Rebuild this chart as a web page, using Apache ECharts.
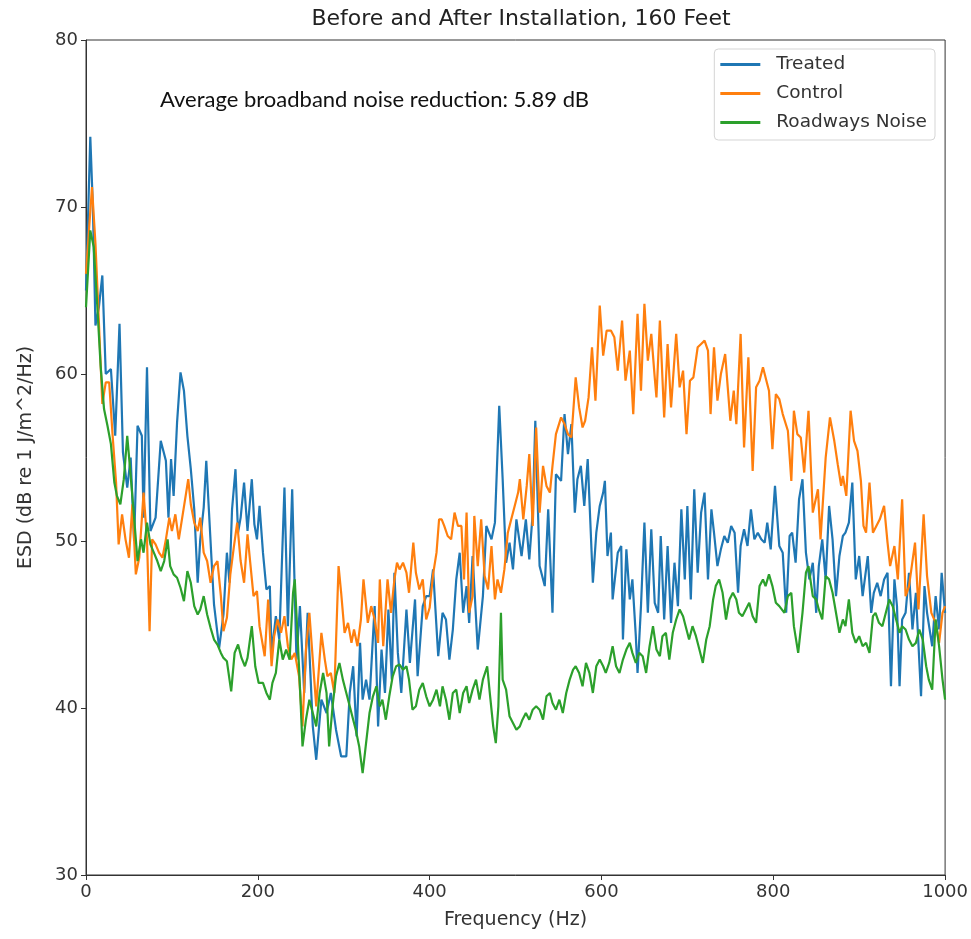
<!DOCTYPE html>
<html>
<head>
<meta charset="utf-8">
<script src="https://cdn.jsdelivr.net/npm/echarts@6/dist/echarts.min.js"></script>
<style>
  html, body { margin: 0; padding: 0; background: #fff; }
  #chart { width: 971px; height: 939px; }
</style>
</head>
<body>
<div id="chart"></div>
<script>
// [frequency Hz, ESD dB]
const treated = [[0,65],[5,74.2],[8,70],[11,62.9],[15,64],[19,65.9],[23,60],[29,60.3],[34,56.3],[39,63],[43,55.3],[48,53.2],[52,55],[56,50],[60,56.9],[65,56.3],[67,51.4],[71,60.4],[75,50.6],[81,51.4],[87,56],[93,54.8],[96,51.4],[99,54.9],[102,52.7],[106,57.1],[110,60.1],[114,59],[118,56.3],[122,54.3],[126,51.9],[130,47.5],[133,50.1],[137,52],[140,54.8],[143,51.9],[146,49],[149,46.2],[155,43.6],[160,45.6],[164,49.3],[167,47.5],[170,51.9],[174,54.3],[177,50.5],[180,51.4],[184,53.5],[188,50.6],[193,53.7],[196,51],[199,50.1],
  [202,52.1],[206,49.3],[210,47.1],[214,47.3],[216,43.3],[221,45.5],[225,44.1],[231,53.2],[235,44.9],[240,53.1],[245,42.9],[249,46.1],[254,40.9],[258,45.7],[264,38.9],[268,36.9],[274,40.5],[280,39.7],[285,40.9],[291,38.7],[297,37.1],[303,37.1],[307,40.9],[311,42.5],[315,38.3],[319,43.9],[322,40.5],[326,41.7],[330,40.5],[336,46.1],[340,38.9],[344,43.5],[348,40.9],[352,45.9],[356,41.7],[359,48.1],[363,43.3],[367,40.9],[373,45.9],[377,42.7],[383,46.5],[386,41.9],[392,46.1],[396,46.7],
  [400,46.7],[404,48.3],[410,43.1],[415,45.7],[419,45.3],[423,42.9],[427,44.7],[431,47.7],[435,49.3],[439,45.7],[443,47.3],[446,45.1],[450,49.1],[456,43.5],[462,46.7],[466,50.9],[472,50.1],[476,51.1],[481,58.1],[485,53.7],[489,48.7],[493,49.9],[497,48.3],[501,51.3],[507,49.1],[512,51.3],[516,48.9],[520,51.7],[523,57.2],[528,48.5],[534,47.3],[538,51.9],[543,45.7],[547,54],[553,53.6],[557,57.6],[561,55.2],[565,57],[569,51.7],[572,53.7],[576,54.5],[580,52.1],[584,54.9],[590,47.5],[594,50.5],[598,52.1],
  [602,52.9],[604,53.6],[607,49.1],[611,50.5],[613,46.5],[619,49.3],[623,49.7],[625,44.1],[629,49.5],[633,46.5],[636,47.7],[640,44.3],[642,42.1],[646,46.1],[650,51.1],[654,45.7],[658,50.7],[662,46.3],[666,45.7],[669,50.3],[673,45.3],[677,49.7],[681,45.1],[685,48.7],[689,46.1],[693,51.9],[697,47.7],[700,52.1],[704,46.5],[708,53.1],[712,48.1],[716,51.7],[720,52.9],[724,47.7],[728,51.9],[731,50.5],[735,48.5],[739,49.5],[743,50.3],[747,49.9],[751,50.9],[755,50.5],[759,46.9],[762,49.7],[766,50.7],[770,49.7],[774,51.9],[778,50.1],[782,50.5],[786,50.1],[790,49.9],[793,51.1],[797,49.5],
  [802,53.3],[807,49.7],[811,49.3],[815,45.7],[819,50.3],[822,50.5],[826,48.7],[830,52.5],[834,53.7],[838,49.3],[842,47.7],[846,48.7],[850,45.7],[853,48.5],[857,50.1],[861,47.7],[865,52.1],[869,50.1],[873,46.7],[877,49.1],[881,50.3],[884,50.5],[888,51.1],[892,53.5],[896,47.7],[900,49.1],[904,46.7],[910,49.1],[914,45.7],[917,46.9],[921,47.5],[925,46.7],[929,47.7],[933,48.1],[937,41.3],[941,47.7],[944,46.1],[947,41.3],[950,45.3],[954,45.7],[958,48.1],[962,44.7],[966,46.9],[972,40.7],[976,47.3],[979,45.7],[985,43.7],[989,46.7],[993,44.7],[996,48.1],[1000,45.7]];

const control = [[0,66],[4,69],[7,71.2],[11,67.8],[15,63.1],[19,58.2],[23,59.5],[27,59.5],[31,56.3],[35,53.5],[38,49.8],[42,51.6],[46,50.1],[50,49],[54,52.2],[58,48],[62,49],[67,52.9],[71,50.1],[74,44.6],[77,50.1],[81,49.8],[85,49.3],[89,49],[93,50.1],[97,51.4],[100,50.6],[104,51.6],[108,50.1],[112,51.4],[116,52.7],[119,53.7],[122,52.2],[126,51.1],[130,50.6],[133,51.4],[137,49.3],[141,48.8],[145,47.5],[149,48.5],[153,48.8],[157,46.7],[160,44.6],[164,45.4],[168,48],[172,49.6],[176,51.1],[180,48.8],[184,47.5],[188,50.4],[191,48.8],[195,46.7],[199,47],
  [202,44.9],[208,43.1],[212,46.5],[216,42.5],[219,44.3],[223,45.3],[227,44.5],[231,45.5],[235,43.7],[239,42.9],[243,43.3],[248,41.9],[252,38.9],[256,43.5],[260,45.7],[264,42.9],[268,40.1],[274,44.5],[278,42.9],[281,41.9],[285,42.1],[289,40.9],[294,48.5],[297,46.9],[301,44.5],[305,45.1],[309,43.9],[312,44.7],[316,43.7],[320,45.3],[323,47.7],[328,45.1],[332,46.1],[336,45.3],[340,43.9],[342,47.7],[346,43.7],[351,47.7],[355,45.7],[359,47.7],[362,48.7],[365,48.3],[369,48.7],[373,48.1],[376,46.9],[381,49.9],[384,48.1],[388,47.1],[392,47.7],[396,45.3],
  [400,46],[404,48],[408,49.3],[411,51.3],[414,51.3],[417,50.9],[421,50.3],[425,50.1],[429,51.7],[433,50.9],[437,50.9],[440,47.7],[443,51.7],[446,45.7],[450,46.7],[452,51.5],[456,48.5],[460,51.3],[464,47.9],[468,47.1],[472,49.7],[476,46.5],[479,47.7],[483,46.9],[487,48.3],[491,50.5],[495,51.3],[499,52.1],[503,52.9],[505,53.7],[509,51.3],[513,53.3],[516,55.2],[520,50.9],[524,56.8],[528,51.7],[532,54.5],[536,53.3],[540,52.9],[543,54.5],[547,56.4],[553,57.4],[557,57],[561,56.4],[565,56.2],[570,59.8],[574,58],[578,56.8],[581,57.2],[585,58.6],[589,61.6],[593,58.4],[598,64.1],
  [602,61.1],[606,62.6],[611,62.6],[615,62.2],[619,60.2],[624,63.2],[628,59.6],[633,61.4],[637,57.6],[642,63.6],[646,59],[650,64.2],[654,60.8],[658,62.4],[662,59.8],[664,58.6],[668,63.2],[673,57.4],[677,61.8],[681,58],[687,62.4],[691,59.2],[695,60.2],[699,56.4],[703,59.6],[707,59.8],[712,61.6],[716,61.8],[720,62],[724,61.4],[727,57.6],[731,61.6],[735,58.4],[739,60],[744,61.2],[747,59.2],[750,57.2],[754,59],[757,57],[762,62.4],[766,55.6],[771,61],[776,54.2],[780,59.2],[784,59.6],[788,60.4],[792,59.6],[795,59],[799,55.5],
  [803,58.8],[807,58.5],[811,57.6],[817,56.6],[821,53.6],[824,57.8],[828,56.4],[832,56.2],[836,54.1],[841,57.8],[846,51.7],[852,53.1],[855,50.1],[861,55],[866,57.4],[871,56],[875,54.6],[879,53.3],[881,53.9],[885,52.7],[890,57.8],[894,56],[898,55.4],[902,53.6],[905,50.9],[908,50.5],[912,53.5],[916,50.5],[920,50.9],[924,51.3],[929,52.1],[933,49.9],[936,48.5],[941,49.7],[945,47.7],[950,52.5],[954,46.7],[958,47.3],[965,49.9],[969,45.9],[975,51.6],[979,47.9],[984,45.7],[989,45.1],[993,43.9],[997,45.7],[1000,46.1]];

const roadways = [[0,64],[5,68.6],[9,67.6],[13,64.2],[17,60.5],[21,57.9],[25,56.9],[29,55.8],[33,53.5],[36,52.7],[40,52.2],[44,53.7],[48,56.3],[52,53.9],[56,51.4],[60,48.8],[64,50.1],[67,49.3],[71,51.1],[75,49.8],[79,49.3],[83,48.8],[87,48.2],[91,48.8],[95,50.1],[98,48.5],[102,48],[106,47.8],[110,47.2],[114,46.4],[118,48.2],[122,47.5],[126,46.1],[130,45.6],[133,45.9],[137,46.7],[141,45.6],[145,44.8],[149,44.1],[153,43.8],[157,43.3],[160,43],[164,42.8],[169,41],[173,43.3],[177,43.8],[181,43],[185,42.5],[188,43],[193,44.9],[197,42.5],
  [201,41.5],[206,41.5],[210,40.9],[214,40.5],[217,41.5],[221,42.1],[225,44.1],[229,42.9],[233,43.5],[237,42.9],[241,46.9],[243,47.7],[247,43.5],[249,41.3],[252,37.7],[256,39.3],[260,40.5],[264,39.7],[268,38.9],[272,40.9],[276,42.1],[280,40.9],[283,37.7],[287,40.1],[291,41.9],[295,42.7],[299,41.7],[303,40.9],[307,40.1],[311,39.3],[314,38.7],[318,37.7],[322,36.1],[326,37.9],[330,39.7],[334,40.7],[338,41.3],[342,40.1],[345,40.5],[349,39.3],[353,40.7],[357,41.9],[361,42.5],[365,42.6],[369,42.3],[373,42.5],[376,41.7],[380,39.9],[384,40.1],[388,41.1],[392,41.5],[396,40.7],
  [400,40.1],[404,40.5],[408,41.1],[412,40.1],[415,41.3],[419,40.5],[423,39.3],[427,40.9],[431,41.1],[435,39.7],[439,40.9],[443,41.3],[446,40.3],[450,41.1],[454,41.7],[458,40.5],[462,41.7],[467,42.5],[470,40.9],[474,38.9],[477,37.9],[480,40.1],[483,45.7],[485,41.7],[489,41.1],[493,39.5],[497,39.1],[501,38.7],[505,38.9],[508,39.3],[512,39.7],[516,39.3],[520,39.9],[524,40.1],[528,39.9],[532,39.3],[536,40.7],[540,40.9],[543,40.3],[547,39.9],[551,40.5],[555,39.7],[559,40.9],[563,41.7],[567,42.3],[570,42.5],[574,42.1],[578,41.3],[582,42.7],[586,42.1],[590,40.9],[594,42.5],[598,42.9],
  [602,42.5],[605,42.1],[609,42.7],[613,43.7],[617,42.5],[621,42.1],[625,42.9],[629,43.5],[633,43.9],[636,43.3],[640,42.7],[644,43.3],[648,43.1],[652,42.1],[656,43.7],[660,44.9],[664,43.5],[668,43.1],[671,44.3],[675,44.5],[679,42.9],[683,44.5],[687,45.3],[691,45.9],[695,45.5],[698,44.9],[702,44.1],[706,44.9],[710,44.3],[714,43.5],[718,42.7],[722,44.1],[726,44.9],[730,46.5],[733,47.3],[737,47.7],[741,46.9],[745,45.3],[749,46.5],[753,46.9],[757,46.5],[760,45.7],[764,45.5],[768,45.9],[772,46.3],[776,45.5],[780,45.1],[784,47.3],[788,47.7],[791,47.3],[795,48],[799,47.3],
  [803,46.3],[807,46.1],[813,45.7],[817,46.7],[821,46.9],[824,44.9],[829,43.3],[834,45.7],[838,48.1],[841,48.5],[846,46.7],[850,46.5],[853,45.9],[857,45.3],[861,47.9],[865,47.7],[869,46.9],[873,45.7],[877,44.5],[881,45.3],[884,44.9],[888,46.5],[892,44.5],[896,43.9],[900,44.3],[904,43.7],[908,43.9],[912,43.3],[916,45.5],[919,45.7],[923,45.1],[927,44.9],[931,45.7],[935,46.5],[939,46.1],[943,45.3],[947,44.5],[950,44.9],[954,44.7],[958,44.1],[962,43.7],[966,43.9],[970,44.7],[974,44.1],[978,42.5],[981,41.7],[985,41.1],[989,45.3],[993,43.7],[997,41.7],[1000,40.5]];

const seriesNames = ['Treated', 'Control', 'Roadways Noise'];
const seriesColors = ['#1f77b4', '#ff7f0e', '#2ca02c'];
const note = 'Average broadband noise reduction: 5.89 dB';

const mpl = 'DejaVu Sans';
const chart = echarts.init(document.getElementById('chart'), null, { renderer: 'canvas' });

function lineSeries(name, data, color) {
  return {
    name: name,
    type: 'line',
    data: data,
    showSymbol: false,
    symbol: 'none',
    lineStyle: { width: 2.2, color: color },
    itemStyle: { color: color },
    emphasis: { disabled: true }
  };
}

const option = {
  animation: false,
  backgroundColor: '#fff',
  title: {
    text: 'Before and After Installation, 160 Feet',
    left: 516,
    top: 3,
    textAlign: 'center',
    textStyle: { fontFamily: mpl, fontSize: 22, fontWeight: 'normal', color: '#222' }
  },
  grid: {
    left: 86, right: 25, top: 40, bottom: 64,
    show: true, borderColor: '#333', borderWidth: 1
  },
  legend: {
    data: seriesNames,
    orient: 'vertical',
    right: 36,
    top: 49,
    icon: 'rect',
    itemWidth: 40,
    itemHeight: 3,
    itemGap: 10,
    padding: [6, 8, 8, 6],
    backgroundColor: '#fff',
    borderColor: '#d5d5d5',
    borderWidth: 1,
    borderRadius: 4,
    textStyle: { fontFamily: mpl, fontSize: 18.5, color: '#333', padding: [0, 0, 0, 11] }
  },
  xAxis: {
    type: 'value',
    min: 0, max: 1000, interval: 200,
    name: 'Frequency (Hz)',
    nameLocation: 'middle',
    nameGap: 36,
    nameTextStyle: { fontFamily: mpl, fontSize: 19, color: '#333' },
    axisLine: { show: true, lineStyle: { color: '#333' } },
    axisTick: { show: true, length: 5, lineStyle: { color: '#333' } },
    axisLabel: { fontFamily: mpl, fontSize: 18, color: '#333', margin: 8, formatter: v => String(v) },
    splitLine: { show: false }
  },
  yAxis: {
    type: 'value',
    min: 30, max: 80, interval: 10,
    name: 'ESD (dB re 1 J/m^2/Hz)',
    nameLocation: 'middle',
    nameGap: 50,
    nameTextStyle: { fontFamily: mpl, fontSize: 19, color: '#333' },
    axisLine: { show: true, lineStyle: { color: '#333' } },
    axisTick: { show: true, length: 5, lineStyle: { color: '#333' } },
    axisLabel: { fontFamily: mpl, fontSize: 18, color: '#333', margin: 8 },
    splitLine: { show: false }
  },
  graphic: [{
    type: 'text',
    left: 160,
    top: 89,
    style: { text: note, font: '22px Lato', fill: '#111' }
  }],
  series: [
    lineSeries(seriesNames[0], treated, seriesColors[0]),
    lineSeries(seriesNames[1], control, seriesColors[1]),
    lineSeries(seriesNames[2], roadways, seriesColors[2])
  ]
};

chart.setOption(option);
</script>
</body>
</html>
